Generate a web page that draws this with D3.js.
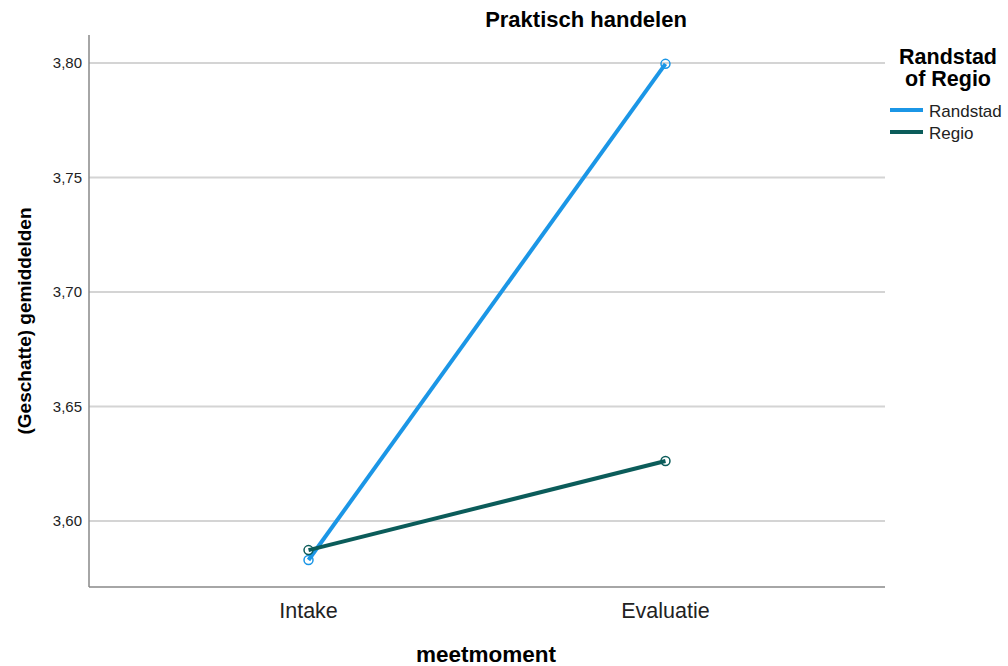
<!DOCTYPE html>
<html>
<head>
<meta charset="utf-8">
<script src="https://cdn.jsdelivr.net/npm/d3@7"></script>
<style>
  body { margin: 0; background: #fff; }
  text { font-family: "Liberation Sans", Arial, sans-serif; }
</style>
</head>
<body>
<script>
// data
const moments = ["Intake", "Evaluatie"];
const groups = ["Randstad", "Regio"];
const randstadMeans = [3.583, 3.7996];
const regioMeans = [3.5873, 3.6262];
const yTicks = [3.60, 3.65, 3.70, 3.75, 3.80];
const colors = ["#1b96e6", "#0b5c5a"];

const width = 1008, height = 666;
const margin = {top: 35, right: 123, bottom: 79, left: 89};

const series = [
  {name: groups[0], values: randstadMeans},
  {name: groups[1], values: regioMeans}
];

let svg = d3.select("body").append("svg")
  .attr("width", width)
  .attr("height", height);

let x = d3.scalePoint()
  .domain(moments)
  .range([margin.left, width - margin.right])
  .padding(0.615);

let y = d3.scaleLinear()
  .domain([3.5712, 3.8122])
  .range([height - margin.bottom, margin.top]);

// gridlines
svg.selectAll(".grid")
  .data(yTicks)
  .enter().append("line")
  .attr("x1", margin.left)
  .attr("x2", width - margin.right)
  .attr("y1", d => y(d))
  .attr("y2", d => y(d))
  .attr("stroke", "#d4d4d4")
  .attr("stroke-width", 2);

// tick labels
svg.selectAll(".ytick")
  .data(yTicks)
  .enter().append("text")
  .attr("x", margin.left - 7)
  .attr("y", d => y(d))
  .attr("dy", "0.35em")
  .attr("text-anchor", "end")
  .attr("font-size", 15)
  .attr("fill", "#222")
  .text(d => d3.format(".2f")(d).replace(".", ","));

// axes lines
svg.append("line")
  .attr("x1", margin.left).attr("x2", margin.left)
  .attr("y1", margin.top).attr("y2", height - margin.bottom)
  .attr("stroke", "#888").attr("stroke-width", 1.5);
svg.append("line")
  .attr("x1", margin.left).attr("x2", width - margin.right)
  .attr("y1", height - margin.bottom).attr("y2", height - margin.bottom)
  .attr("stroke", "#888").attr("stroke-width", 1.5);

// category labels
svg.selectAll(".xtick")
  .data(moments)
  .enter().append("text")
  .attr("x", d => x(d))
  .attr("y", 618)
  .attr("text-anchor", "middle")
  .attr("font-size", 21.5)
  .attr("fill", "#222")
  .text(d => d);

let line = d3.line()
  .x((d, i) => x(moments[i]))
  .y(d => y(d));

series.forEach(function(s, i) {
  svg.append("path")
    .datum(s.values)
    .attr("d", line)
    .attr("fill", "none")
    .attr("stroke", colors[i])
    .attr("stroke-width", 4);
});

series.forEach(function(s, i) {
  svg.selectAll(".pt" + i)
    .data(s.values)
    .enter().append("circle")
    .attr("cx", (d, j) => x(moments[j]))
    .attr("cy", d => y(d))
    .attr("r", 4.5)
    .attr("fill", "none")
    .attr("stroke", colors[i])
    .attr("stroke-width", 1.5);
});

// titles
svg.append("text")
  .attr("x", 586).attr("y", 27)
  .attr("text-anchor", "middle")
  .attr("font-size", 22).attr("font-weight", "bold")
  .text("Praktisch handelen");

svg.append("text")
  .attr("x", 486).attr("y", 662)
  .attr("text-anchor", "middle")
  .attr("font-size", 22.5).attr("font-weight", "bold")
  .text("meetmoment");

svg.append("text")
  .attr("transform", "translate(31," + 321 + ") rotate(-90)")
  .attr("text-anchor", "middle")
  .attr("font-size", 19).attr("font-weight", "bold")
  .text("(Geschatte) gemiddelden");

// legend
svg.append("text")
  .attr("x", 948).attr("y", 64)
  .attr("text-anchor", "middle")
  .attr("font-size", 21.5).attr("font-weight", "bold")
  .text("Randstad");
svg.append("text")
  .attr("x", 948).attr("y", 86)
  .attr("text-anchor", "middle")
  .attr("font-size", 21.5).attr("font-weight", "bold")
  .text("of Regio");

let legend = svg.selectAll(".legend")
  .data(groups)
  .enter().append("g")
  .attr("transform", (d, i) => "translate(890," + (110 + i * 22) + ")");
legend.append("line")
  .attr("x1", 0).attr("x2", 33)
  .attr("stroke", (d, i) => colors[i])
  .attr("stroke-width", 4);
legend.append("text")
  .attr("x", 39).attr("y", 7)
  .attr("font-size", 17)
  .attr("fill", "#222")
  .text(d => d);
</script>
</body>
</html>
